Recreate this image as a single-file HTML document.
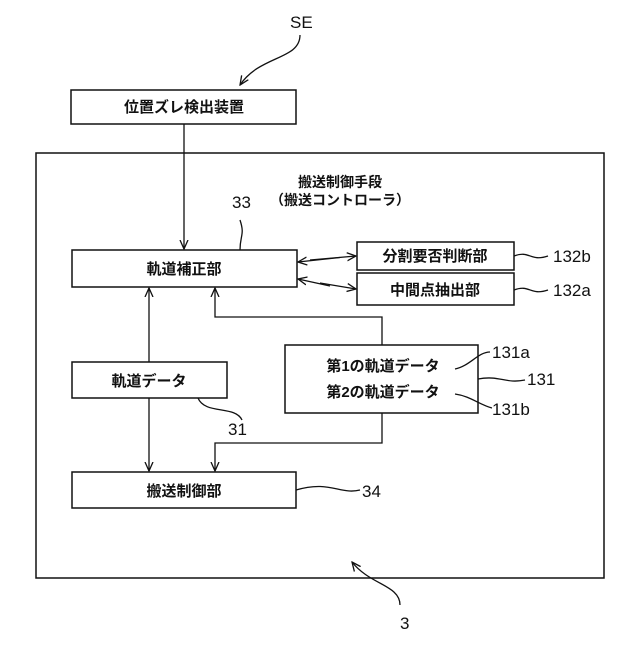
<!DOCTYPE html>
<html><head><meta charset="utf-8"><style>
body{margin:0;background:#fff}
svg text{font-family:"Liberation Sans","Noto Sans CJK JP",sans-serif;fill:#111}
</style></head><body>
<svg width="640" height="640" viewBox="0 0 640 640" xmlns="http://www.w3.org/2000/svg">
<defs><marker id="a" markerWidth="10" markerHeight="10" refX="9" refY="5" orient="auto" markerUnits="userSpaceOnUse"><path d="M0,1 L9,5 L0,9" fill="none" stroke="#111" stroke-width="1.3"/></marker></defs>
<g fill="none" stroke="#111" stroke-width="1.5">
<rect x="71" y="90" width="225" height="34"/>
<rect x="36" y="153" width="568" height="425"/>
<rect x="72" y="250" width="225" height="37"/>
<rect x="357" y="242" width="157" height="28"/>
<rect x="357" y="273" width="157" height="32"/>
<rect x="72" y="362" width="155" height="36"/>
<rect x="285" y="345" width="193" height="68"/>
<rect x="72" y="472" width="224" height="36"/>
</g>
<g fill="none" stroke="#111" stroke-width="1.3">
<line x1="184" y1="124" x2="184" y2="249" marker-end="url(#a)"/>
<line x1="149" y1="362" x2="149" y2="288" marker-end="url(#a)"/>
<polyline points="382,345 382,317 215,317 215,288" marker-end="url(#a)"/>
<line x1="149" y1="398" x2="149" y2="471" marker-end="url(#a)"/>
<polyline points="382,413 382,443 215,443 215,471" marker-end="url(#a)"/>
<line x1="310" y1="260" x2="356" y2="256" marker-end="url(#a)"/>
<line x1="340" y1="257.5" x2="298" y2="262" marker-end="url(#a)"/>
<line x1="320" y1="283" x2="356" y2="289" marker-end="url(#a)"/>
<line x1="330" y1="286" x2="298" y2="279" marker-end="url(#a)"/>
<path d="M300,35 C300,60 260,55 240,85" marker-end="url(#a)"/>
<path d="M400,605 C400,585 370,585 352,562" marker-end="url(#a)"/>
<path d="M240,250 C240,235 245,235 240,220"/>
<path d="M198,398 C205,415 235,405 242,420"/>
<path d="M296,490 C330,480 340,495 360,490"/>
<path d="M514,256 C530,250 530,262 548,256"/>
<path d="M514,290 C530,284 530,296 548,290"/>
<path d="M455,369 C470,366 478,352 490,352"/>
<path d="M478,379 C500,375 505,384 525,380"/>
<path d="M455,394 C470,396 480,405 492,408"/>
</g>
<g font-size="15" font-weight="bold" text-anchor="middle">
<text x="184" y="112">位置ズレ検出装置</text>
<text x="340" y="187" font-size="14">搬送制御手段</text>
<text x="340" y="205" font-size="14">（搬送コントローラ）</text>
<text x="184" y="274">軌道補正部</text>
<text x="435" y="261">分割要否判断部</text>
<text x="435" y="295">中間点抽出部</text>
<text x="149" y="386">軌道データ</text>
<text x="383" y="371">第1の軌道データ</text>
<text x="383" y="397">第2の軌道データ</text>
<text x="184" y="496">搬送制御部</text>
</g>
<g font-size="17">
<text x="290" y="28">SE</text>
<text x="232" y="208">33</text>
<text x="553" y="262">132b</text>
<text x="553" y="296">132a</text>
<text x="492" y="358">131a</text>
<text x="527" y="385">131</text>
<text x="492" y="415">131b</text>
<text x="228" y="435">31</text>
<text x="362" y="497">34</text>
<text x="400" y="629">3</text>
</g>
</svg>
</body></html>
